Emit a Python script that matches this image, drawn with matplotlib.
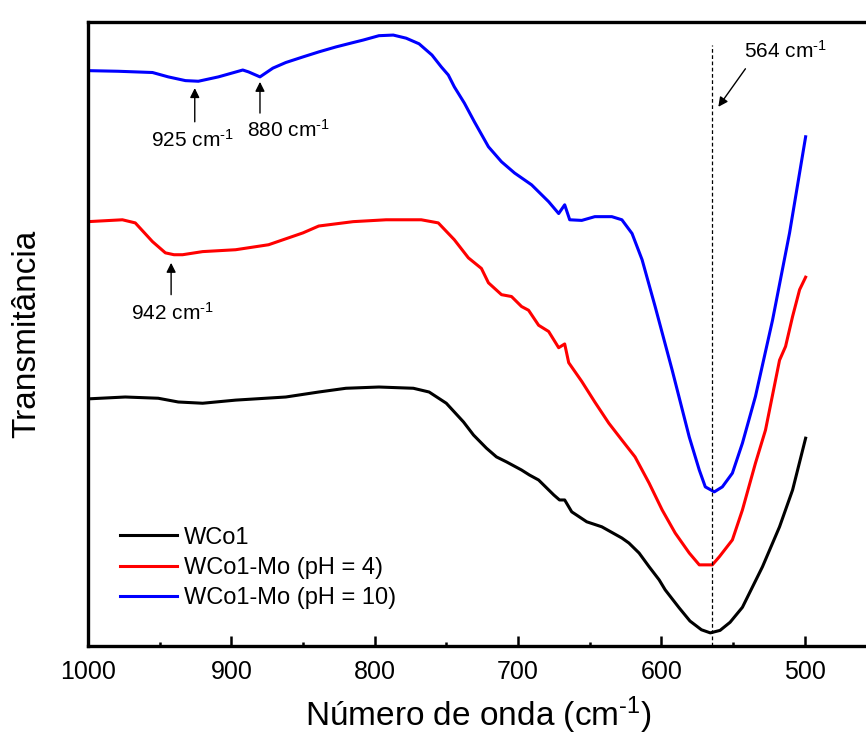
import matplotlib
matplotlib.use('Agg')
import matplotlib.pyplot as plt
from matplotlib.ticker import MultipleLocator

plt.rcParams['font.family'] = ['Liberation Sans', 'DejaVu Sans']
plt.rcParams['mathtext.fontset'] = 'custom'
plt.rcParams['mathtext.rm'] = 'Liberation Sans'
plt.rcParams['mathtext.it'] = 'Liberation Sans'
plt.rcParams['mathtext.default'] = 'regular'

# Espectros FTIR (transmitancia em unidades arbitrarias)
wn_wco1 = [1000, 974, 951, 937, 920, 897, 862, 839, 820, 797, 773, 762, 750, 738,
           731, 722, 715, 708, 697.5, 692, 685.6, 675, 671, 667.4, 662.5, 652,
           641.5, 627.5, 622.6, 615.5, 608.5, 601.5, 597.3, 587.5, 580, 572,
           565.8, 559, 552, 543.4, 529.4, 517.5, 508.4, 499.3]
t_wco1 = [39.6, 39.9, 39.7, 39.1, 38.9, 39.4, 39.9, 40.7, 41.3, 41.5, 41.3, 40.7,
          38.9, 35.9, 33.8, 31.7, 30.3, 29.5, 28.2, 27.4, 26.6, 24.2, 23.4, 23.4,
          21.5, 19.9, 19.1, 17.3, 16.5, 14.9, 12.7, 10.6, 9.0, 6.1, 4.0, 2.6, 2.1,
          2.5, 3.8, 6.2, 12.7, 19.1, 25.0, 33.3]

wn_ph4 = [1000, 976, 967, 955, 946, 940, 934, 920, 897, 874, 850, 839, 815, 792,
          767.5, 755.6, 744.4, 734.6, 725.5, 720.6, 711.5, 704.5, 697.5, 692.6,
          685.6, 678.6, 671.6, 667.4, 664.6, 655.5, 646.4, 636.6, 627.5, 618.3,
          608.5, 599.4, 590.3, 580.5, 573.5, 564.4, 559.5, 550.4, 543.4, 534.3,
          527.3, 517.5, 513.3, 508.4, 503.5, 499.3]
t_ph4 = [68.0, 68.3, 67.8, 64.8, 63.0, 62.7, 62.7, 63.2, 63.5, 64.3, 66.2, 67.3,
         68.0, 68.3, 68.3, 67.8, 65.1, 62.2, 60.5, 58.2, 56.3, 56.0, 54.4, 53.8,
         51.4, 50.4, 47.8, 48.4, 45.4, 42.4, 39.1, 35.7, 33.0, 30.3, 26.1, 21.8,
         18.1, 14.9, 13.0, 13.0, 14.3, 17.0, 21.8, 29.3, 34.6, 45.8, 48.0, 52.8,
         57.1, 59.1]

wn_ph10 = [1000, 979, 955, 944, 932, 923, 909, 892, 888, 880, 871, 862, 850, 839,
           827, 815, 808, 797, 787, 778, 769, 760, 753.5, 748.6, 744.4, 737.4,
           730.4, 720.6, 711.5, 702.4, 690.5, 678.6, 671.6, 667.4, 663.9, 655.5,
           646.4, 634.5, 627.5, 620.4, 613.4, 604.3, 592.4, 580.5, 573.5, 569.3,
           563, 557.4, 550.4, 543.4, 534.3, 522.4, 510.5, 499.3]
t_ph10 = [92.2, 92.1, 91.9, 91.2, 90.6, 90.5, 91.2, 92.3, 92.0, 91.2, 92.6, 93.5,
          94.4, 95.2, 96.0, 96.7, 97.1, 97.8, 97.9, 97.4, 96.5, 94.7, 92.8, 91.5,
          89.6, 87.0, 84.0, 80.0, 77.6, 75.8, 73.9, 71.2, 69.3, 70.7, 68.3, 68.2,
          68.8, 68.8, 68.3, 66.1, 61.9, 54.4, 44.2, 33.5, 28.2, 25.5, 24.7, 25.5,
          27.7, 32.5, 40.0, 52.2, 66.2, 81.6]

labels = ['WCo1', 'WCo1-Mo (pH = 4)', 'WCo1-Mo (pH = 10)']
colors = ['black', 'red', 'blue']

CM = 'cm$^{\\text{-}1}$'

fig = plt.figure(figsize=(8.66, 7.42), dpi=100)
ax = fig.add_axes([0.1016, 0.1294, 0.902, 0.841])

for wn, t, lab, col in zip([wn_wco1, wn_ph4, wn_ph10], [t_wco1, t_ph4, t_ph10], labels, colors):
    ax.plot(wn, t, color=col, lw=2.2, label=lab)

ax.set_xlim(1000, 455)
ax.set_ylim(0, 100)

# linha de referencia em 564 cm-1
ax.plot([564.4, 564.4], [0, 96.3], color='black', lw=0.9, ls=(0, (3, 2)))

arrow = dict(arrowstyle='-|>', color='black', lw=1.0, mutation_scale=14, shrinkA=0, shrinkB=0)
ax.annotate('', xy=(925.5, 89.4), xytext=(925.5, 84.0), arrowprops=arrow)
ax.text(927, 81.1, '925 ' + CM, ha='center', va='center', fontsize=15)
ax.annotate('', xy=(880, 90.4), xytext=(880, 85.4), arrowprops=arrow)
ax.text(860, 82.7, '880 ' + CM, ha='center', va='center', fontsize=15)
ax.annotate('', xy=(942, 61.4), xytext=(942, 56.3), arrowprops=arrow)
ax.text(941, 53.4, '942 ' + CM, ha='center', va='center', fontsize=15)
ax.annotate('', xy=(560.2, 86.4), xytext=(541.3, 92.5), arrowprops=arrow)
ax.text(513.3, 95.4, '564 ' + CM, ha='center', va='center', fontsize=15)

ax.set_xlabel('Número de onda (' + CM + ')', fontsize=24, labelpad=8)
ax.set_ylabel('Transmitância', fontsize=24, labelpad=33)

ax.xaxis.set_major_locator(MultipleLocator(100))
ax.xaxis.set_minor_locator(MultipleLocator(50))
ax.tick_params(axis='x', which='major', direction='in', length=7, width=1.8,
               labelsize=18, pad=10)
ax.tick_params(axis='x', which='minor', direction='in', length=3, width=1.8)
ax.set_yticks([])

for side in ['left', 'bottom', 'top']:
    ax.spines[side].set_linewidth(2.4)
ax.spines['right'].set_visible(False)

ax.legend(loc='lower left', bbox_to_anchor=(0.041, 0.059), frameon=False, fontsize=17,
          handlelength=2.4, handletextpad=0.3, labelspacing=0.35, borderpad=0,
          borderaxespad=0)

fig.savefig('out.png', dpi=100)
